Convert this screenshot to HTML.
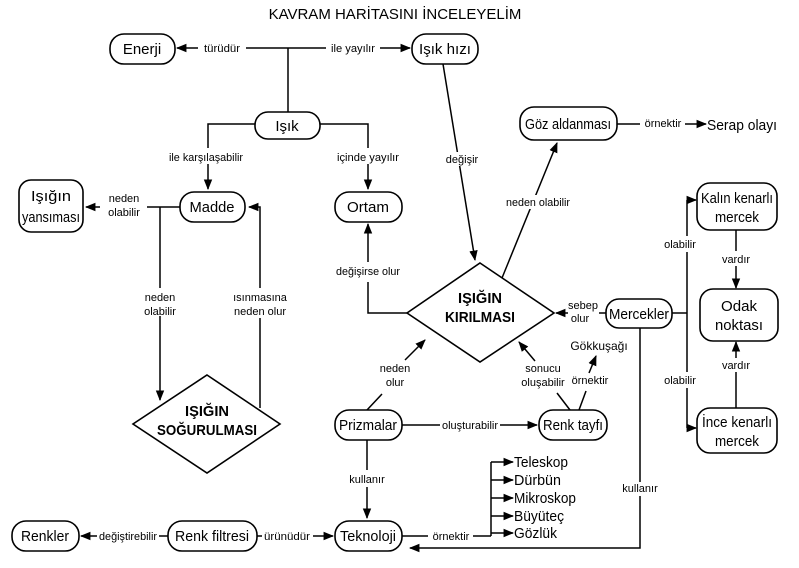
<!DOCTYPE html>
<html><head><meta charset="utf-8"><style>
html,body{margin:0;padding:0;background:#fff;width:799px;height:568px;overflow:hidden}
svg{display:block}
.n{font-family:"Liberation Sans",sans-serif;font-size:15px;fill:#000;text-anchor:middle}
.l{font-family:"Liberation Sans",sans-serif;font-size:11px;fill:#000;text-anchor:middle}
.b{font-family:"Liberation Sans",sans-serif;font-size:15px;font-weight:bold;fill:#000;text-anchor:middle}
rect,polygon{fill:#fff;stroke:#000;stroke-width:1.6}
line,polyline{stroke:#000;stroke-width:1.5;fill:none}
</style></head><body>
<svg width="799" height="568" viewBox="0 0 799 568">
<defs><marker id="a" viewBox="0 0 10 10" refX="9" refY="5" markerWidth="7" markerHeight="7" orient="auto"><path d="M0,1 L10,5 L0,9 z" fill="#000"/></marker></defs>
<text x="395" y="19" style="font-family:'Liberation Sans',sans-serif;font-size:15px;text-anchor:middle">KAVRAM HARİTASINI İNCELEYELİM</text>

<line x1="198" y1="48" x2="177" y2="48" marker-end="url(#a)"/>
<line x1="246" y1="48" x2="326" y2="48"/>
<line x1="380" y1="48" x2="410" y2="48" marker-end="url(#a)"/>
<text class="l" x="222" y="52" textLength="36" lengthAdjust="spacingAndGlyphs">türüdür</text>
<text class="l" x="353" y="52" textLength="44" lengthAdjust="spacingAndGlyphs">ile yayılır</text>
<line x1="288" y1="48" x2="288" y2="112"/>

<polyline points="255,124 208,124 208,148"/>
<line x1="208" y1="164" x2="208" y2="189" marker-end="url(#a)"/>
<text class="l" x="206" y="161" textLength="74" lengthAdjust="spacingAndGlyphs">ile karşılaşabilir</text>
<polyline points="320,124 368,124 368,148"/>
<line x1="368" y1="164" x2="368" y2="189" marker-end="url(#a)"/>
<text class="l" x="368" y="161" textLength="62" lengthAdjust="spacingAndGlyphs">içinde yayılır</text>

<line x1="180" y1="207" x2="147" y2="207"/>
<line x1="100" y1="207" x2="86" y2="207" marker-end="url(#a)"/>
<text class="l" x="124" y="202">neden</text>
<text class="l" x="124" y="216">olabilir</text>
<line x1="160" y1="207" x2="160" y2="288"/>
<line x1="160" y1="316" x2="160" y2="400" marker-end="url(#a)"/>
<text class="l" x="160" y="301">neden</text>
<text class="l" x="160" y="315">olabilir</text>
<line x1="260" y1="408" x2="260" y2="318"/>
<polyline points="260,288 260,207 249,207" marker-end="url(#a)"/>
<text class="l" x="260" y="301">ısınmasına</text>
<text class="l" x="260" y="315">neden olur</text>

<polyline points="407,313 368,313 368,282"/>
<line x1="368" y1="262" x2="368" y2="224" marker-end="url(#a)"/>
<text class="l" x="368" y="275" textLength="64" lengthAdjust="spacingAndGlyphs">değişirse olur</text>

<line x1="443" y1="64" x2="475" y2="260" marker-end="url(#a)"/>
<rect x="448" y="152" width="28" height="14" style="stroke:none"/>
<text class="l" x="462" y="163">değişir</text>
<line x1="502" y1="278" x2="557" y2="143" marker-end="url(#a)"/>
<rect x="505" y="195" width="66" height="14" style="stroke:none"/>
<text class="l" x="538" y="206" textLength="64" lengthAdjust="spacingAndGlyphs">neden olabilir</text>

<line x1="617" y1="124" x2="640" y2="124"/>
<text class="l" x="663" y="127">örnektir</text>
<line x1="685" y1="124" x2="706" y2="124" marker-end="url(#a)"/>
<text x="742" y="130" class="n" textLength="70" lengthAdjust="spacingAndGlyphs">Serap olayı</text>

<line x1="606" y1="313" x2="599" y2="313"/>
<line x1="568" y1="313" x2="556" y2="313" marker-end="url(#a)"/>
<text class="l" x="583" y="309">sebep</text>
<text class="l" x="580" y="322">olur</text>
<line x1="672" y1="313" x2="687" y2="313"/>
<line x1="687" y1="200" x2="687" y2="236"/>
<line x1="687" y1="252" x2="687" y2="372"/>
<line x1="687" y1="388" x2="687" y2="428"/>
<line x1="687" y1="200" x2="696" y2="200" marker-end="url(#a)"/>
<line x1="687" y1="428" x2="696" y2="428" marker-end="url(#a)"/>
<text class="l" x="680" y="248">olabilir</text>
<text class="l" x="680" y="384">olabilir</text>
<line x1="736" y1="230" x2="736" y2="251"/>
<line x1="736" y1="266" x2="736" y2="288" marker-end="url(#a)"/>
<text class="l" x="736" y="263">vardır</text>
<line x1="736" y1="408" x2="736" y2="372"/>
<line x1="736" y1="358" x2="736" y2="342" marker-end="url(#a)"/>
<text class="l" x="736" y="369">vardır</text>
<polyline points="640,327 640,482"/>
<polyline points="640,496 640,548 410,548" marker-end="url(#a)"/>
<text class="l" x="640" y="492">kullanır</text>

<line x1="367" y1="410" x2="382" y2="394"/>
<text class="l" x="395" y="372">neden</text>
<text class="l" x="395" y="386">olur</text>
<line x1="405" y1="360" x2="425" y2="340" marker-end="url(#a)"/>
<line x1="402" y1="425" x2="440" y2="425"/>
<text class="l" x="470" y="429" textLength="56" lengthAdjust="spacingAndGlyphs">oluşturabilir</text>
<line x1="500" y1="425" x2="537" y2="425" marker-end="url(#a)"/>
<line x1="570" y1="410" x2="557" y2="393"/>
<text class="l" x="543" y="372">sonucu</text>
<text class="l" x="543" y="386">oluşabilir</text>
<line x1="535" y1="361" x2="519" y2="342" marker-end="url(#a)"/>
<line x1="579" y1="410" x2="586" y2="391"/>
<text class="l" x="590" y="384">örnektir</text>
<line x1="589" y1="373" x2="596" y2="356" marker-end="url(#a)"/>
<text class="l" x="599" y="350" style="font-size:12px">Gökkuşağı</text>
<line x1="367" y1="440" x2="367" y2="470"/>
<line x1="367" y1="487" x2="367" y2="518" marker-end="url(#a)"/>
<text class="l" x="367" y="483">kullanır</text>

<line x1="168" y1="536" x2="159" y2="536"/>
<line x1="97" y1="536" x2="81" y2="536" marker-end="url(#a)"/>
<text class="l" x="128" y="540" textLength="58" lengthAdjust="spacingAndGlyphs">değiştirebilir</text>
<line x1="257" y1="536" x2="262" y2="536"/>
<text class="l" x="287" y="540" textLength="46" lengthAdjust="spacingAndGlyphs">ürünüdür</text>
<line x1="313" y1="536" x2="333" y2="536" marker-end="url(#a)"/>
<line x1="402" y1="536" x2="428" y2="536"/>
<text class="l" x="451" y="540">örnektir</text>
<line x1="473" y1="536" x2="491" y2="536"/>
<line x1="491" y1="462" x2="491" y2="536"/>
<line x1="491" y1="462" x2="513" y2="462" marker-end="url(#a)"/>
<line x1="491" y1="480" x2="513" y2="480" marker-end="url(#a)"/>
<line x1="491" y1="498" x2="513" y2="498" marker-end="url(#a)"/>
<line x1="491" y1="516" x2="513" y2="516" marker-end="url(#a)"/>
<line x1="491" y1="533" x2="513" y2="533" marker-end="url(#a)"/>
<g style="font-family:'Liberation Sans',sans-serif;font-size:15px">
<text x="514" y="467" textLength="54" lengthAdjust="spacingAndGlyphs">Teleskop</text>
<text x="514" y="485" textLength="47" lengthAdjust="spacingAndGlyphs">Dürbün</text>
<text x="514" y="503" textLength="62" lengthAdjust="spacingAndGlyphs">Mikroskop</text>
<text x="514" y="521" textLength="50" lengthAdjust="spacingAndGlyphs">Büyüteç</text>
<text x="514" y="538" textLength="43" lengthAdjust="spacingAndGlyphs">Gözlük</text>
</g>

<rect x="110" y="34" width="65" height="30" rx="14"/><text class="n" x="142" y="54">Enerji</text>
<rect x="412" y="34" width="66" height="30" rx="14"/><text class="n" x="445" y="54" textLength="52" lengthAdjust="spacingAndGlyphs">Işık hızı</text>
<rect x="255" y="112" width="65" height="27" rx="13"/><text class="n" x="287" y="131">Işık</text>
<rect x="180" y="192" width="65" height="30" rx="14"/><text class="n" x="212" y="212" textLength="45" lengthAdjust="spacingAndGlyphs">Madde</text>
<rect x="335" y="192" width="67" height="30" rx="14"/><text class="n" x="368" y="212" textLength="42" lengthAdjust="spacingAndGlyphs">Ortam</text>
<rect x="19" y="180" width="64" height="52" rx="12"/><text class="n" x="51" y="201" textLength="40" lengthAdjust="spacingAndGlyphs">Işığın</text><text class="n" x="51" y="222" textLength="58" lengthAdjust="spacingAndGlyphs">yansıması</text>
<rect x="520" y="107" width="97" height="33" rx="14"/><text class="n" x="568" y="129" textLength="86" lengthAdjust="spacingAndGlyphs">Göz aldanması</text>
<rect x="697" y="183" width="80" height="47" rx="13"/><text class="n" x="737" y="203" textLength="72" lengthAdjust="spacingAndGlyphs">Kalın kenarlı</text><text class="n" x="737" y="222" textLength="44" lengthAdjust="spacingAndGlyphs">mercek</text>
<rect x="700" y="289" width="78" height="52" rx="13"/><text class="n" x="739" y="311" textLength="36" lengthAdjust="spacingAndGlyphs">Odak</text><text class="n" x="739" y="330" textLength="48" lengthAdjust="spacingAndGlyphs">noktası</text>
<rect x="697" y="408" width="80" height="45" rx="13"/><text class="n" x="737" y="427" textLength="70" lengthAdjust="spacingAndGlyphs">İnce kenarlı</text><text class="n" x="737" y="446" textLength="44" lengthAdjust="spacingAndGlyphs">mercek</text>
<rect x="606" y="299" width="66" height="29" rx="13"/><text class="n" x="639" y="319" textLength="60" lengthAdjust="spacingAndGlyphs">Mercekler</text>
<rect x="335" y="410" width="67" height="30" rx="14"/><text class="n" x="368" y="430" textLength="58" lengthAdjust="spacingAndGlyphs">Prizmalar</text>
<rect x="539" y="410" width="68" height="30" rx="14"/><text class="n" x="573" y="430" textLength="60" lengthAdjust="spacingAndGlyphs">Renk tayfı</text>
<rect x="335" y="521" width="67" height="30" rx="14"/><text class="n" x="368" y="541" textLength="56" lengthAdjust="spacingAndGlyphs">Teknoloji</text>
<rect x="168" y="521" width="89" height="30" rx="14"/><text class="n" x="212" y="541" textLength="74" lengthAdjust="spacingAndGlyphs">Renk filtresi</text>
<rect x="12" y="521" width="67" height="30" rx="14"/><text class="n" x="45" y="541" textLength="48" lengthAdjust="spacingAndGlyphs">Renkler</text>

<polygon points="207,375 280,424 207,473 133,424"/>
<text class="b" x="207" y="416" textLength="44" lengthAdjust="spacingAndGlyphs">IŞIĞIN</text><text class="b" x="207" y="435" textLength="100" lengthAdjust="spacingAndGlyphs">SOĞURULMASI</text>
<polygon points="480,263 554,313 480,362 407,313"/>
<text class="b" x="480" y="303" textLength="44" lengthAdjust="spacingAndGlyphs">IŞIĞIN</text><text class="b" x="480" y="322" textLength="70" lengthAdjust="spacingAndGlyphs">KIRILMASI</text>
</svg>
</body></html>
